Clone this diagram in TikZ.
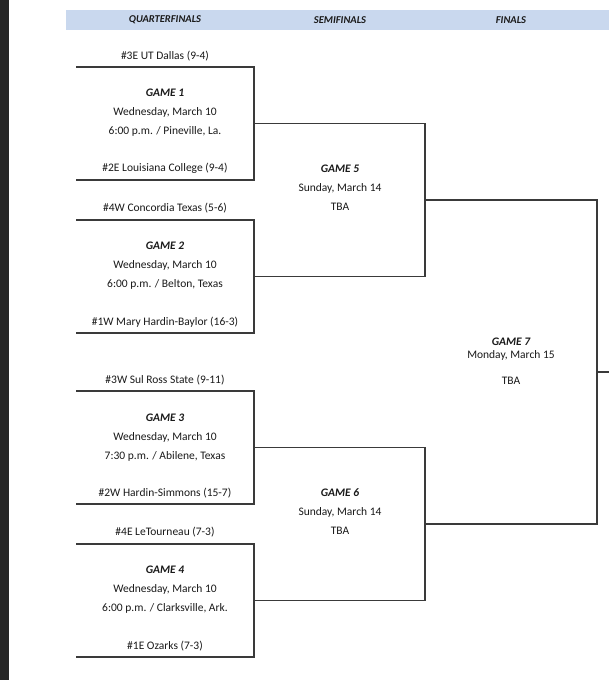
\documentclass[tikz,border=0pt]{standalone}
\usepackage{fontspec}
\setmainfont{Carlito}
\usetikzlibrary{positioning,calc}
\definecolor{headerblue}{HTML}{C9D8EE}
\definecolor{lineink}{HTML}{3A3A3A}
\definecolor{textink}{HTML}{1A1A1A}
\definecolor{sidedark}{HTML}{262626}

\begin{document}
\begin{tikzpicture}[
  x=1pt, y=-1pt,
  bracket/.style={draw=lineink, line width=1.5pt},
  infotxt/.style={
    font=\fontsize{11.5}{13}\selectfont, text=textink, inner sep=0pt,
    text height=8.5pt, text depth=2.5pt
  },
  gametxt/.style={infotxt, font=\fontsize{11.5}{13}\selectfont\bfseries\itshape},
  headtxt/.style={font=\fontsize{10.5}{12}\selectfont\bfseries\itshape, text=textink, inner sep=0pt}
]
  \useasboundingbox (0,0) rectangle (609,680);
  \fill[white] (0,0) rectangle (609,680);
  % dark page edge on the left
  \fill[sidedark] (0,0) rectangle (9,680);

  % Header band
  \fill[headerblue] (66,10) rectangle (609,30);
  \node[headtxt] (hqf) at (165,20) {QUARTERFINALS};
  \node[headtxt] (hsf) at (340,20) {SEMIFINALS};
  \node[headtxt] (hfin) at (511,20) {FINALS};

  % Column guides
  \coordinate (sfline) at (425,0);
  \coordinate (finline) at (597,0);

  % Quarterfinal brackets
  \foreach \i/\t/\b in {1/67/180, 2/220/333, 3/391/504, 4/544/657} {
    \draw[bracket] (76,\t) -- (254,\t) -- (254,\b) -- (76,\b);
    \coordinate (q\i out) at (254,{(\t+\b)/2});
  }

  % Game 1
  \node[infotxt] (g1top) at (165,56) {\#3E UT Dallas (9-4)};
  \node[gametxt] (g1) at (165,93) {GAME 1};
  \node[infotxt, below=8pt of g1] (g1day) {Wednesday, March 10};
  \node[infotxt, below=8pt of g1day] (g1time) {6:00 p.m. / Pineville, La.};
  \node[infotxt] (g1bot) at (165,168) {\#2E Louisiana College (9-4)};

  % Game 2
  \node[infotxt] (g2top) at (165,208) {\#4W Concordia Texas (5-6)};
  \node[gametxt] (g2) at (165,246) {GAME 2};
  \node[infotxt, below=8pt of g2] (g2day) {Wednesday, March 10};
  \node[infotxt, below=8pt of g2day] (g2time) {6:00 p.m. / Belton, Texas};
  \node[infotxt] (g2bot) at (165,322) {\#1W Mary Hardin-Baylor (16-3)};

  % Game 3
  \node[infotxt] (g3top) at (165,380) {\#3W Sul Ross State (9-11)};
  \node[gametxt] (g3) at (165,418) {GAME 3};
  \node[infotxt, below=8pt of g3] (g3day) {Wednesday, March 10};
  \node[infotxt, below=8pt of g3day] (g3time) {7:30 p.m. / Abilene, Texas};
  \node[infotxt] (g3bot) at (165,493) {\#2W Hardin-Simmons (15-7)};

  % Game 4
  \node[infotxt] (g4top) at (165,532) {\#4E LeTourneau (7-3)};
  \node[gametxt] (g4) at (165,570) {GAME 4};
  \node[infotxt, below=8pt of g4] (g4day) {Wednesday, March 10};
  \node[infotxt, below=8pt of g4day] (g4time) {6:00 p.m. / Clarksville, Ark.};
  \node[infotxt] (g4bot) at (165,646) {\#1E Ozarks (7-3)};

  % Semifinal brackets
  \draw[bracket] (q1out) -- (q1out -| sfline) -- (q2out -| sfline) -- (q2out);
  \draw[bracket] (q3out) -- (q3out -| sfline) -- (q4out -| sfline) -- (q4out);
  \coordinate (s5out) at ($(q1out -| sfline)!0.5!(q2out -| sfline)$);
  \coordinate (s6out) at ($(q3out -| sfline)!0.5!(q4out -| sfline)$);

  \node[gametxt] (g5) at (340,169) {GAME 5};
  \node[infotxt, below=8pt of g5] (g5day) {Sunday, March 14};
  \node[infotxt, below=8pt of g5day] (g5site) {TBA};

  \node[gametxt] (g6) at (340,493) {GAME 6};
  \node[infotxt, below=8pt of g6] (g6day) {Sunday, March 14};
  \node[infotxt, below=8pt of g6day] (g6site) {TBA};

  % Final bracket
  \draw[bracket] (s5out) -- (s5out -| finline) -- (s6out -| finline) -- (s6out);
  \coordinate (finout) at (597,372);
  \coordinate (pageedge) at (609,372);
  \draw[bracket] (finout) -- (pageedge);

  \node[gametxt] (g7) at (511,342) {GAME 7};
  \node[infotxt, below=2pt of g7] (g7day) {Monday, March 15};
  \node[infotxt, below=15pt of g7day] (g7site) {TBA};
\end{tikzpicture}
\end{document}
